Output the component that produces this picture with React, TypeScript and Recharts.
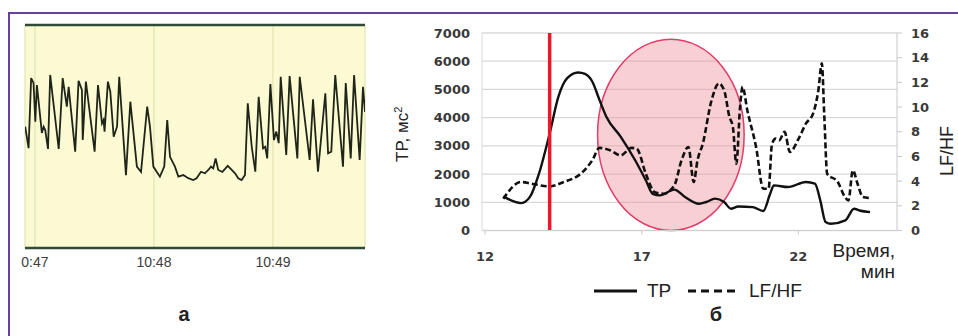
import React from "react";
import {
  LineChart,
  Line,
  XAxis,
  YAxis,
  CartesianGrid,
  ReferenceLine,
  ReferenceArea,
} from "recharts";

// panel "а": seconds after 10:47, relative level of the trace
const rrTime = [
  -4.9, -3.2, -1.9, -0.7, 0.2, 1.0, 3.5, 4.4, 5.2, 6.6, 7.7, 12.0, 14.0, 16.1, 17.0, 20.3, 22.0, 23.7,
  24.1, 25.7, 30.1, 31.8, 33.8, 34.6, 35.1, 36.8, 38.0, 39.7, 41.4, 42.5, 45.9, 48.1, 51.4, 53.5, 56.6,
  58.0, 59.7, 63.0, 65.2, 66.7, 68.1, 70.6, 72.3, 74.8, 77.3, 79.8, 81.5, 83.7, 85.7, 87.4, 88.8, 89.9,
  91.1, 92.4, 94.5, 97.2, 99.2, 100.9, 102.5, 104.2, 105.9, 107.3, 109.3, 111.1, 112.8, 115.0, 116.1,
  117.1, 118.7, 120.5, 121.7, 122.9, 123.9, 126.7, 128.4, 132.3, 133.5, 138.5, 140.2, 142.7, 146.4,
  147.8, 149.4, 151.4, 155.3, 156.7, 159.2, 160.9, 163.7, 165.4, 166.4,
];
const rrLevel = [
  54.4, 44.8, 76.2, 74.0, 56.6, 73.1, 51.6, 54.4, 52.9, 44.4, 77.6, 44.4, 76.2, 63.4, 72.3, 43.2, 75.0,
  70.9, 48.4, 74.6, 43.2, 73.1, 55.9, 57.4, 52.2, 74.6, 70.1, 49.9, 54.4, 76.8, 32.7, 65.6, 36.5, 34.1,
  63.4, 54.4, 36.5, 32.0, 36.5, 57.4, 40.9, 36.5, 32.0, 32.7, 31.3, 30.5, 31.3, 34.2, 33.5, 35.0, 36.5,
  35.7, 40.2, 35.0, 34.1, 36.8, 35.0, 33.5, 31.3, 30.5, 32.7, 64.9, 45.4, 34.2, 67.8, 44.7, 45.4, 40.2,
  73.5, 48.4, 52.2, 47.0, 76.8, 41.7, 77.1, 40.2, 76.8, 39.5, 66.7, 34.2, 69.4, 42.5, 43.2, 77.6, 36.5,
  74.0, 40.2, 77.6, 39.5, 72.3, 61.0,
];
const clockTicks = [0, 60, 120];
const clockLabels = ["0:47", "10:48", "10:49"];
const levelGrid = [23.3, 61.4, 100];

// panel "б": time in minutes
const tpTime = [
  12.58, 13.15, 13.43, 13.72, 14.06, 14.34, 14.62, 14.97, 15.19, 15.42, 15.65, 15.87, 16.33, 16.79,
  17.13, 17.35, 17.58, 18.04, 18.38, 18.83, 19.06, 19.34, 19.63, 19.85, 20.08, 20.54, 20.88, 21.1,
  21.22, 21.67, 22.24, 22.53, 22.7, 22.87, 23.04, 23.5, 23.78, 23.95, 24.29,
];
const tpValues = [
  1210, 970, 1190, 2020, 3440, 4745, 5400, 5600, 5550, 5280, 4630, 4030, 3320, 2490, 1780, 1300, 1245,
  1450, 1190, 950, 1010, 1130, 1010, 770, 850, 830, 690, 1300, 1600, 1540, 1720, 1660, 1070, 300, 240,
  360, 770, 710, 650,
];
const lfhfTime = [
  12.58, 13.15, 13.49, 14.06, 14.51, 15.08, 15.42, 15.65, 15.99, 16.33, 16.67, 16.84, 17.13, 17.41,
  17.7, 18.04, 18.27, 18.49, 18.66, 18.78, 18.95, 19.23, 19.46, 19.63, 19.8, 19.91, 20.02, 20.14, 20.22,
  20.37, 20.65, 20.88, 21.05, 21.16, 21.28, 21.39, 21.56, 21.73, 22.01, 22.24, 22.47, 22.64, 22.75,
  22.83, 22.92, 23.26, 23.49, 23.6, 23.74, 23.89, 24.06, 24.29,
];
const lfhfValues = [
  2.57, 3.93, 3.79, 3.57, 3.93, 4.66, 5.68, 6.69, 6.5, 6.09, 6.69, 6.63, 4.6, 3.11, 2.98, 3.65, 5.68,
  6.77, 3.93, 5.68, 7.04, 10.56, 11.91, 11.37, 9.2, 8.39, 5.41, 10.02, 11.64, 9.75, 6.77, 3.38, 3.38,
  7.04, 7.44, 7.31, 7.99, 6.36, 7.44, 8.66, 9.47, 11.37, 13.54, 9.2, 4.6, 3.93, 2.71, 2.44, 4.87, 3.79,
  2.71, 2.63,
];
const minuteTicks = [12, 17, 22];
const tpTicks = [0, 1000, 2000, 3000, 4000, 5000, 6000, 7000];
const lfhfTicks = [0, 2, 4, 6, 8, 10, 12, 14, 16];
const loadMoment = 14.06;
const zoneStart = 15.59;
const zoneEnd = 20.27;
const zoneTop = 6780;

const rrData = rrTime.map((t, i) => ({ t, v: rrLevel[i] }));
const tpData = tpTime.map((t, i) => ({ t, v: tpValues[i] }));
const lfhfData = lfhfTime.map((t, i) => ({ t, v: lfhfValues[i] }));

const boldTick = {
  fontFamily: "DejaVu Sans",
  fontWeight: 700,
  fontSize: 13,
  fill: "#3a3a3a",
};

const EllipseShape = (props: any) => {
  const { x, y, width, height } = props;
  return (
    <ellipse
      cx={x + width / 2}
      cy={y + height / 2}
      rx={width / 2}
      ry={height / 2}
      fill="#ee8a94"
      fillOpacity={0.4}
      stroke="#e33c68"
      strokeWidth={1.5}
    />
  );
};

const App = () => {
  const sans = "'Liberation Sans', Arial, sans-serif";
  return (
    <div
      style={{
        position: "absolute",
        left: 0,
        top: 0,
        width: 958,
        height: 336,
        background: "#fff",
        overflow: "hidden",
      }}
    >
      <div
        style={{
          position: "absolute",
          left: 8,
          top: 12,
          width: 950,
          height: 324,
          borderTop: "2.5px solid #6a3ea1",
          borderLeft: "2.5px solid #6a3ea1",
        }}
      />

      <div style={{ position: "absolute", left: 0, top: 0 }}>
        <LineChart
          width={380}
          height={290}
          data={rrData}
          margin={{ top: 25, right: 15, bottom: 12, left: 25 }}
        >
          <CartesianGrid
            fill="#fcfad2"
            fillOpacity={1}
            stroke="#e2e4b2"
            strokeWidth={1.2}
          />
          <XAxis
            dataKey="t"
            type="number"
            domain={[-5, 166.4]}
            ticks={clockTicks}
            tickFormatter={(v: number) => clockLabels[clockTicks.indexOf(v)]}
            height={30}
            axisLine={{ stroke: "#2f4a37", strokeWidth: 2.5 }}
            tickLine={false}
            tickSize={3}
            tickMargin={6}
            tick={{ fontFamily: sans, fontSize: 14, fill: "#3c3c3c" }}
            allowDataOverflow
          />
          <YAxis
            domain={[0, 100]}
            ticks={levelGrid}
            width={0}
            tick={false}
            axisLine={false}
            tickLine={false}
          />
          <ReferenceLine y={100} stroke="#2f4a37" strokeWidth={2.5} />
          <Line
            dataKey="v"
            type="linear"
            stroke="#1f2619"
            strokeWidth={1.8}
            dot={false}
            isAnimationActive={false}
          />
        </LineChart>
      </div>

      <div style={{ position: "absolute", left: 400, top: 0 }}>
        <LineChart
          width={558}
          height={336}
          margin={{ top: 33, right: 21, bottom: 75.5, left: 22 }}
        >
          <CartesianGrid vertical={false} stroke="#d9d9d9" strokeWidth={1.3} yAxisId="tp" />
          <XAxis
            dataKey="t"
            type="number"
            domain={[11.9, 25.15]}
            ticks={minuteTicks}
            height={30}
            axisLine={{ stroke: "#d0d0d0" }}
            tickLine={{ stroke: "#c8c8c8" }}
            tickSize={4}
            tickMargin={17}
            tick={boldTick}
            allowDataOverflow
          />
          <YAxis
            yAxisId="tp"
            domain={[0, 7000]}
            ticks={tpTicks}
            width={60}
            axisLine={{ stroke: "#dadada" }}
            tickLine={false}
            tickSize={6}
            tickMargin={6}
            tick={boldTick}
          />
          <YAxis
            yAxisId="lfhf"
            orientation="right"
            domain={[0, 16]}
            ticks={lfhfTicks}
            width={40}
            axisLine={{ stroke: "#c8c8c8" }}
            tickLine={{ stroke: "#c8c8c8" }}
            tickSize={5}
            tickMargin={9}
            tick={boldTick}
          />
          <ReferenceArea
            yAxisId="tp"
            x1={zoneStart}
            x2={zoneEnd}
            y1={0}
            y2={zoneTop}
            shape={EllipseShape}
          />
          <Line
            data={lfhfData}
            yAxisId="lfhf"
            dataKey="v"
            type="monotone"
            stroke="#111"
            strokeWidth={2.6}
            strokeDasharray="6 3"
            dot={false}
            isAnimationActive={false}
          />
          <Line
            data={tpData}
            yAxisId="tp"
            dataKey="v"
            type="monotone"
            stroke="#111"
            strokeWidth={2.4}
            dot={false}
            isAnimationActive={false}
          />
          <ReferenceLine
            yAxisId="tp"
            x={loadMoment}
            stroke="#e8192c"
            strokeWidth={3.5}
          />
        </LineChart>
      </div>

      <svg
        width={958}
        height={336}
        style={{ position: "absolute", left: 0, top: 0, pointerEvents: "none" }}
        fontFamily={sans}
        fill="#222"
      >
        <text transform="translate(408,162) rotate(-90)" fontSize={17}>
          TP, мс
          <tspan dy={-6} fontSize={11}>
            2
          </tspan>
        </text>
        <text
          transform="translate(953,151) rotate(-90)"
          fontSize={18}
          textAnchor="middle"
        >
          LF/HF
        </text>
        <text x={895} y={257} fontSize={19} textAnchor="end">
          Время,
        </text>
        <text x={895} y={278} fontSize={19} textAnchor="end">
          мин
        </text>
        <line x1={594} y1={291} x2={637} y2={291} stroke="#111" strokeWidth={3} />
        <text x={647} y={297} fontSize={19}>
          TP
        </text>
        <line
          x1={688}
          y1={291}
          x2={735}
          y2={291}
          stroke="#111"
          strokeWidth={3}
          strokeDasharray="8 5"
        />
        <text x={749} y={297} fontSize={19}>
          LF/HF
        </text>
        <text x={184} y={321} fontSize={20} fontWeight={700} textAnchor="middle">
          а
        </text>
        <text x={716} y={321} fontSize={20} fontWeight={700} textAnchor="middle">
          б
        </text>
      </svg>
    </div>
  );
};

export default App;
